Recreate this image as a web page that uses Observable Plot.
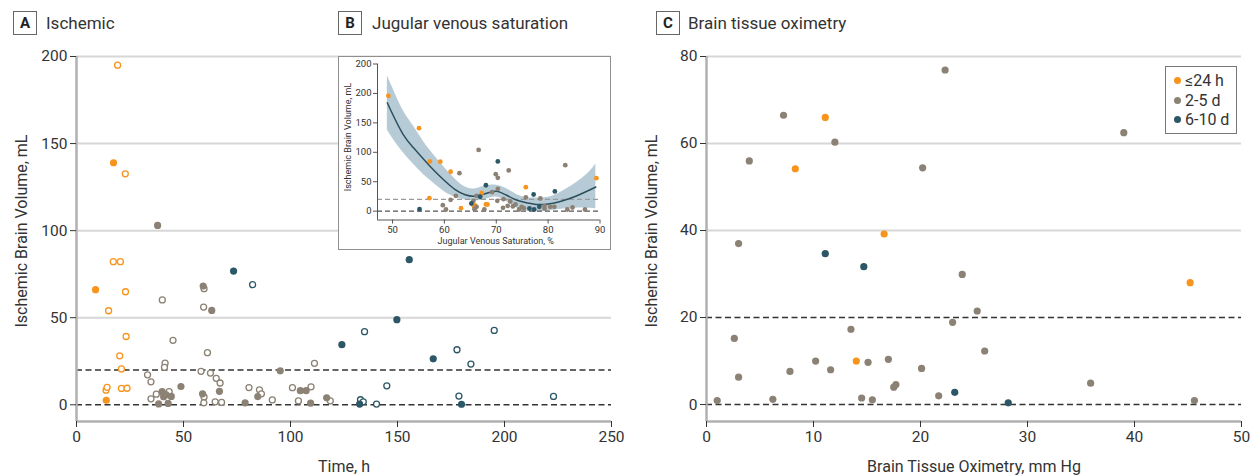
<!DOCTYPE html>
<html><head><meta charset="utf-8">
<script src="https://cdn.jsdelivr.net/npm/d3@7"></script>
<script src="https://cdn.jsdelivr.net/npm/@observablehq/plot@0.6"></script>
<style>
body{margin:0;background:#fff;font-family:Roboto,sans-serif;color:#333}
#root{position:relative;width:1252px;height:476px;overflow:hidden;background:#fff}
.tag{position:absolute;top:11px;width:22px;height:22px;border:1px solid #666;font-weight:700;font-size:15px;line-height:22px;text-align:center;color:#222;background:#fff}
.ttl{position:absolute;top:12px;font-size:17px;line-height:22px;color:#333;white-space:nowrap}
#inset{position:absolute;left:338px;top:56px;border:1.5px solid #8f8f8f;background:#fff}
#legend{position:absolute;left:1165px;top:66px;width:70px;height:66px;border:1px solid #777;background:#fff;font-size:16px;color:#333}
#legend .it{position:absolute;left:8px;white-space:nowrap;line-height:18px}
#legend .dot{display:inline-block;width:7px;height:7px;border-radius:50%;margin-right:4px;vertical-align:2px}
</style></head>
<body><div id="root"></div>
<script>
// ---------- shared ----------
const groups = ["≤24 h", "2-5 d", "6-10 d"];
const groupColors = ["#f7941d", "#8b8174", "#2c5766"];
const thresholds = [0, 20];

// ---------- Panel A: Ischemic (time vs ischemic brain volume) ----------
const aTitle = "Ischemic";
const aXLabel = "Time, h";
const aYLabel = "Ischemic Brain Volume, mL";
const aXTicks = [0, 50, 100, 150, 200, 250];
const aYTicks = [0, 50, 100, 150, 200];
// group index into groups; open: 1 = hollow marker, 0 = filled marker
const aTime = [
  8.9, 17.3, 13.9,
  19.2, 22.8, 17.2, 20.5, 22.9, 15.0, 23.2, 20.2, 21.0, 21.0, 23.6, 13.8, 14.3,
  37.9, 59.2, 63.2, 48.8, 40.0, 40.7, 41.8, 44.3, 38.4, 42.8, 58.9, 66.8, 78.8, 84.7, 95.2, 104.6, 107.3, 109.4, 116.9,
  59.6, 40.1, 59.4, 45.1, 61.2, 41.4, 41.1, 58.2, 62.6, 65.3, 67.1, 33.2, 34.8, 34.8, 37.3, 43.3, 59.6, 59.5, 64.8, 67.8, 80.6, 85.5, 86.4, 91.5, 100.9, 103.7, 109.6, 111.2, 118.6,
  73.4, 155.5, 149.7, 124.0, 166.7, 132.3, 179.9,
  82.3, 134.6, 195.2, 177.8, 184.3, 145.0, 132.7, 134.0, 140.2, 178.7, 222.9
];
const aVolume = [
  66.1, 139, 2.6,
  195, 132.6, 82.2, 82.2, 64.9, 54, 39.2, 28.1, 20.6, 9.4, 9.5, 8.4, 10,
  103, 68.2, 54.2, 10.5, 7.5, 4.6, 5.8, 4.8, 0.5, 0.8, 6.3, 7.7, 1.1, 4.7, 19.5, 8.1, 8.1, 0.9, 4.0,
  66.7, 60.2, 56.1, 37, 29.9, 23.9, 21.5, 19.2, 18.2, 15.2, 12.5, 17.2, 13.2, 3.4, 6.1, 7.5, 4.5, 1.1, 1.7, 1.4, 9.9, 8.6, 6.3, 2.8, 9.8, 2.2, 10.3, 23.8, 2.3,
  76.8, 83.3, 48.9, 34.5, 26.4, 0.4, 0.3,
  69, 42, 42.7, 31.6, 23.4, 10.9, 2.9, 1.7, 0.4, 5.0, 4.8
];
const aGroup = [
  0, 0, 0,
  0, 0, 0, 0, 0, 0, 0, 0, 0, 0, 0, 0, 0,
  1, 1, 1, 1, 1, 1, 1, 1, 1, 1, 1, 1, 1, 1, 1, 1, 1, 1, 1,
  1, 1, 1, 1, 1, 1, 1, 1, 1, 1, 1, 1, 1, 1, 1, 1, 1, 1, 1, 1, 1, 1, 1, 1, 1, 1, 1, 1, 1,
  2, 2, 2, 2, 2, 2, 2,
  2, 2, 2, 2, 2, 2, 2, 2, 2, 2, 2
];
const aOpen = [
  0, 0, 0,
  1, 1, 1, 1, 1, 1, 1, 1, 1, 1, 1, 1, 1,
  0, 0, 0, 0, 0, 0, 0, 0, 0, 0, 0, 0, 0, 0, 0, 0, 0, 0, 0,
  1, 1, 1, 1, 1, 1, 1, 1, 1, 1, 1, 1, 1, 1, 1, 1, 1, 1, 1, 1, 1, 1, 1, 1, 1, 1, 1, 1, 1,
  0, 0, 0, 0, 0, 0, 0,
  1, 1, 1, 1, 1, 1, 1, 1, 1, 1, 1
];

// ---------- Panel B: Jugular venous saturation (inset) ----------
const bTitle = "Jugular venous saturation";
const bXLabel = "Jugular Venous Saturation, %";
const bYLabel = "Ischemic Brain Volume, mL";
const bXTicks = [50, 60, 70, 80, 90];
const bYTicks = [0, 50, 100, 150, 200, 250];
const bYTickLabels = ["0", "50", "100", "150", "200", "200"];
const bJvs = [
  49.2, 55.1, 57.2, 59.2, 61.2, 57.1, 63.2, 65.9, 65.7, 67.2, 68.3, 68.0, 75.7, 89.3,
  66.6, 62.9, 62.2, 61.2, 59.7, 60.3, 66.2, 65.6, 66.2, 65.8, 67.7, 69.9, 70.3, 72.4, 83.3, 69.2, 70.3, 70.2, 71.4, 71.3, 72.2, 72.7, 73.2, 73.7, 74.4, 74.9, 75.3, 75.7, 78.5, 79.3, 79.3, 80.4, 81.2, 83.7, 84.7, 87.1,
  55.2, 65.2, 68.0, 66.9, 70.3, 77.2, 81.3, 76.4, 77.3, 78.3
];
const bVolume = [
  196, 141, 84.5, 84, 67, 22, 5.1, 10, 8, 31, 11.3, 11.5, 40.8, 56,
  104, 64.6, 26, 19.2, 10.2, 2.8, 26, 17.5, 7.4, 3.4, 2.8, 62.9, 56.7, 69.2, 78.2, 32.3, 38, 17.5, 20.4, 5.7, 9, 16.4, 8, 11.3, 2.8, 7.4, 5.1, 23.3, 21.5, 9, 4.5, 7.4, 7.4, 2.8, 6.2, 2.8,
  3.4, 13, 44, 24.5, 84.5, 28.3, 33.5, 4.5, 2.8, 7.4
];
const bGroup = [
  0, 0, 0, 0, 0, 0, 0, 0, 0, 0, 0, 0, 0, 0,
  1, 1, 1, 1, 1, 1, 1, 1, 1, 1, 1, 1, 1, 1, 1, 1, 1, 1, 1, 1, 1, 1, 1, 1, 1, 1, 1, 1, 1, 1, 1, 1, 1, 1, 1, 1,
  2, 2, 2, 2, 2, 2, 2, 2, 2, 2
];
// fitted curve with confidence band
const bFitX  = [49, 50, 52, 54, 56, 58, 60, 62, 64, 66, 68, 70, 72, 74, 76, 78, 80, 82, 84, 86, 88, 89.2];
const bFit   = [184, 165, 131, 108, 88, 69, 52, 37, 28, 25.5, 30, 34, 27, 18.5, 14, 11.3, 12, 15.5, 21, 28, 36, 41];
const bFitLo = [138, 124, 100, 80, 62, 47, 33, 24, 19, 17.5, 20, 24, 16, 5, 0, -1, 0.5, 3, 4.5, 5.5, 5, 4];
const bFitHi = [230, 210, 172, 145, 118, 95, 74, 55, 41, 38, 43, 44, 38, 28, 23, 22.5, 23.5, 30, 40, 52, 67, 80];

// ---------- Panel C: Brain tissue oximetry ----------
const cTitle = "Brain tissue oximetry";
const cXLabel = "Brain Tissue Oximetry, mm Hg";
const cYLabel = "Ischemic Brain Volume, mL";
const cXTicks = [0, 10, 20, 30, 40, 50];
const cYTicks = [0, 20, 40, 60, 80];
const cBto = [
  11.1, 8.3, 16.6, 14.0, 45.2,
  7.2, 12.0, 4.0, 20.2, 3.0, 2.6, 13.5, 3.0, 10.2, 15.1, 17.0, 11.6, 7.8, 20.1, 17.7, 17.5, 1.0, 6.2, 14.5, 15.5, 21.7, 22.3, 39.0, 23.9, 25.3, 23.0, 26.0, 35.9, 45.6,
  11.1, 14.7, 23.2, 28.2
];
const cVolume = [
  66, 54.2, 39.2, 10, 28,
  66.5, 60.3, 56, 54.4, 37, 15.2, 17.3, 6.3, 10, 9.7, 10.4, 8, 7.6, 8.3, 4.6, 4, 0.9, 1.2, 1.5, 1.1, 2, 76.9, 62.5, 29.9, 21.5, 18.9, 12.3, 4.9, 0.9,
  34.7, 31.7, 2.8, 0.4
];
const cGroup = [
  0, 0, 0, 0, 0,
  1, 1, 1, 1, 1, 1, 1, 1, 1, 1, 1, 1, 1, 1, 1, 1, 1, 1, 1, 1, 1, 1, 1, 1, 1, 1, 1, 1, 1,
  2, 2, 2, 2
];

// ---------- build ----------
const root = document.getElementById("root");
const color = {domain: groups, range: groupColors};
const font = "Roboto, 'Open Sans', sans-serif";

function addTitle(letter, text, boxLeft, textLeft) {
  const b = document.createElement("div");
  b.className = "tag"; b.style.left = boxLeft + "px"; b.textContent = letter;
  root.appendChild(b);
  const t = document.createElement("div");
  t.className = "ttl"; t.style.left = textLeft + "px"; t.textContent = text;
  root.appendChild(t);
}

function mainPanel({xs, ys, gs, opens, xDomain, yDomain, xTicks, yTicks, xLabel, yLabel, gridTicks}) {
  const data = xs.map((x, i) => ({x, y: ys[i], g: groups[gs[i]], open: opens ? opens[i] === 1 : false}));
  const y0 = yDomain[0];
  return Plot.plot({
    width: 630, height: 476,
    marginLeft: 76, marginRight: 19, marginTop: 56, marginBottom: 55,
    style: {fontFamily: font, fontSize: "15.5px", color: "#333", background: "transparent", overflow: "visible"},
    x: {domain: xDomain},
    y: {domain: yDomain},
    color,
    marks: [
      Plot.gridY(gridTicks, {stroke: "#d7d7d7", strokeOpacity: 1, strokeWidth: 2}),
      Plot.ruleY(thresholds, {stroke: "#333", strokeWidth: 1.4, strokeDasharray: "6,3.5"}),
      Plot.ruleX([xDomain[0]], {y1: y0, y2: yDomain[1], stroke: "#b0b0b0", strokeWidth: 2.5}),
      Plot.ruleY([y0], {stroke: "#b0b0b0", strokeWidth: 2.5}),
      Plot.axisX({ticks: xTicks, tickSize: 6, tickPadding: 3, label: null, stroke: "#333"}),
      Plot.axisY({ticks: yTicks, tickSize: 6, tickPadding: 3, label: null, stroke: "#333"}),
      Plot.text([xLabel], {text: d => d, frameAnchor: "bottom", dy: 45, textAnchor: "middle", lineAnchor: "middle", fontSize: 16, fill: "#333"}),
      Plot.text([yLabel], {text: d => d, frameAnchor: "left", dx: -55, dy: -8, rotate: -90, textAnchor: "middle", lineAnchor: "middle", fontSize: 16, fill: "#333"}),
      Plot.dot(data.filter(d => d.open), {x: "x", y: "y", r: 3, stroke: "g", fill: "white", strokeWidth: 1.3}),
      Plot.dot(data.filter(d => !d.open), {x: "x", y: "y", r: 3.6, fill: "g"})
    ]
  });
}

// Panel A
const svgA = mainPanel({
  xs: aTime, ys: aVolume, gs: aGroup, opens: aOpen,
  xDomain: [0, 250], yDomain: [-9.6, 200], xTicks: aXTicks, yTicks: aYTicks,
  xLabel: aXLabel, yLabel: aYLabel, gridTicks: [50, 100, 150, 200]
});
svgA.style.position = "absolute"; svgA.style.left = "0px"; svgA.style.top = "0px";
root.appendChild(svgA);

// Panel C
const svgC = mainPanel({
  xs: cBto, ys: cVolume, gs: cGroup, opens: null,
  xDomain: [0, 50], yDomain: [-3.9, 80], xTicks: cXTicks, yTicks: cYTicks,
  xLabel: cXLabel, yLabel: cYLabel, gridTicks: [40, 60, 80]
});
svgC.style.position = "absolute"; svgC.style.left = "630px"; svgC.style.top = "0px";
root.appendChild(svgC);

// Panel B inset
const inset = document.createElement("div");
inset.id = "inset";
root.appendChild(inset);
const dataB = bJvs.map((x, i) => ({x, y: bVolume[i], g: groups[bGroup[i]]}));
const curveB = bFitX.map((x, i) => ({x, fit: bFit[i], lo: bFitLo[i], hi: bFitHi[i]}));
const bLabelMap = new Map(bYTicks.map((v, i) => [v, bYTickLabels[i]]));
const bX0 = 47.1, bY0 = -15;
const svgB = Plot.plot({
  width: 271, height: 192,
  marginLeft: 38, marginRight: 10.5, marginTop: 6.5, marginBottom: 29.5,
  style: {fontFamily: font, fontSize: "9.5px", color: "#333", background: "transparent", overflow: "visible"},
  x: {domain: [bX0, 90]},
  y: {domain: [bY0, 250]},
  color,
  marks: [
    Plot.areaY(curveB, {x: "x", y1: "lo", y2: "hi", fill: "#b7cbd7", curve: "natural"}),
    Plot.ruleY([20], {stroke: "#9a9a9a", strokeWidth: 1.3, strokeDasharray: "5,3"}),
    Plot.ruleY([0], {stroke: "#555", strokeWidth: 1.1, strokeDasharray: "5,3"}),
    Plot.line(curveB, {x: "x", y: "fit", stroke: "#2c4f5c", strokeWidth: 1.5, curve: "natural"}),
    Plot.dot(dataB, {x: "x", y: "y", r: 2.4, fill: "g"}),
    Plot.ruleX([bX0], {y1: bY0, y2: 250, stroke: "#555", strokeWidth: 1}),
    Plot.ruleY([bY0], {stroke: "#555", strokeWidth: 1}),
    Plot.axisX({ticks: bXTicks, tickSize: 4, tickPadding: 2, label: null, stroke: "#555"}),
    Plot.axisY({ticks: bYTicks, tickSize: 4, tickPadding: 2, label: null, stroke: "#555", tickFormat: d => bLabelMap.get(d)}),
    Plot.text([bXLabel], {text: d => d, frameAnchor: "bottom", dy: 21, dx: 7, textAnchor: "middle", lineAnchor: "middle", fontSize: 9, fill: "#333"}),
    Plot.text([bYLabel], {text: d => d, frameAnchor: "left", dx: -29, dy: -5, rotate: -90, textAnchor: "middle", lineAnchor: "middle", fontSize: 9, fill: "#333"})
  ]
});
inset.appendChild(svgB);
svgB.style.display = "block";

// titles
addTitle("A", aTitle, 13, 46);
addTitle("B", bTitle, 338, 372);
addTitle("C", cTitle, 656, 688);

// legend (panel C)
const legend = document.createElement("div");
legend.id = "legend";
groups.forEach((g, i) => {
  const it = document.createElement("div");
  it.className = "it";
  it.style.top = (5 + i * 19.5) + "px";
  const dot = document.createElement("span");
  dot.className = "dot"; dot.style.background = groupColors[i];
  it.appendChild(dot);
  it.appendChild(document.createTextNode(g));
  legend.appendChild(it);
});
root.appendChild(legend);
</script></body></html>
